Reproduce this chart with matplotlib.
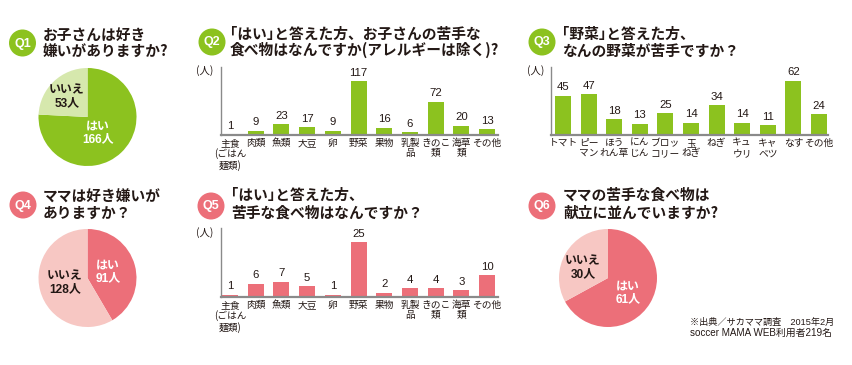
import matplotlib
matplotlib.use("Agg")
import matplotlib.pyplot as plt
from matplotlib.patches import Circle

plt.rcParams['font.family'] = ['Noto Sans CJK JP', 'DejaVu Sans']
LAT = ['Liberation Sans', 'Noto Sans CJK JP']

W, H = 852, 365

# ---------------- data ----------------
q1_labels = ["はい", "いいえ"]
q1_values = [166, 53]

q2_cats = ["主食\n(ごはん\n麺類)", "肉類", "魚類", "大豆", "卵", "野菜", "果物",
           "乳製\n品", "きのこ\n類", "海草\n類", "その他"]
q2_values = [1, 9, 23, 17, 9, 117, 16, 6, 72, 20, 13]

q3_cats = ["トマト", "ピー\nマン", "ほう\nれん草", "にん\nじん", "ブロッ\nコリー", "玉\nねぎ",
           "ねぎ", "キュ\nウリ", "キャ\nベツ", "なす", "その他"]
q3_values = [45, 47, 18, 13, 25, 14, 34, 14, 11, 62, 24]

q4_labels = ["はい", "いいえ"]
q4_values = [91, 128]

q5_cats = q2_cats
q5_values = [1, 6, 7, 5, 1, 25, 2, 4, 4, 3, 10]

q6_labels = ["はい", "いいえ"]
q6_values = [61, 30]

titles = {
    "Q1": "お子さんは好き\n嫌いがありますか?",
    "Q2": "｢はい｣と答えた方、お子さんの苦手な\n食べ物はなんですか(アレルギーは除く)?",
    "Q3": "｢野菜｣と答えた方、\nなんの野菜が苦手ですか？",
    "Q4": "ママは好き嫌いが\nありますか？",
    "Q5": "｢はい｣と答えた方、\n苦手な食べ物はなんですか？",
    "Q6": "ママの苦手な食べ物は\n献立に並んでいますか?",
}
footnote = ["※出典／サカママ調査　2015年2月", "soccer MAMA WEB利用者219名"]

GREEN = "#8cc21f"
LGREEN = "#d6e8ad"
PINK = "#ec6f79"
LPINK = "#f7c7c3"
TXT = "#231815"
AXC = "#8a8a8a"

fig = plt.figure(figsize=(W / 100, H / 100), dpi=100)
bg = fig.add_axes([0, 0, 1, 1])
bg.set_xlim(0, W)
bg.set_ylim(H, 0)
bg.axis("off")
bg.set_zorder(10)


def badge(q, x, y, color):
    bg.add_patch(Circle((x, y), 13.5, color=color, lw=0))
    bg.text(x, y + 0.5, q, color="white", fontsize=9, fontweight="bold",
            ha="center", va="center", family=LAT)


def title(q, x, y1, y2):
    l1, l2 = titles[q].split("\n")
    bg.text(x, y1, l1, fontsize=10.6, fontweight="bold", color=TXT, ha="left", va="center")
    bg.text(x, y2, l2, fontsize=10.6, fontweight="bold", color=TXT, ha="left", va="center")


def px_axes(x0, y0, x1, y1):
    return fig.add_axes([x0 / W, 1 - y1 / H, (x1 - x0) / W, (y1 - y0) / H])


def pie(cx, cy, r, values, colors, label_info):
    ax = px_axes(cx - r, cy - r, cx + r, cy + r)
    ax.pie(values, colors=colors, startangle=90, counterclock=False,
           wedgeprops=dict(linewidth=0), radius=1)
    ax.set_xlim(-1, 1)
    ax.set_ylim(-1, 1)
    ax.set_aspect("equal")
    ax.axis("off")
    for (lab, val, lx, ly, col) in label_info:
        bg.text(lx, ly, f"{lab}\n{val}人", fontsize=8.6, fontweight="bold", color=col,
                ha="center", va="center", linespacing=1.05, family=LAT)


def bars(x0, ytop, x1, ybase, cats, values, color, first_c, last_c, ymax):
    ax = px_axes(x0, ytop, x1, ybase)
    n = len(values)
    step = (last_c - first_c) / (n - 1)
    pos = list(range(n))
    ax.bar(pos, values, width=16 / step, color=color, linewidth=0)
    ax.set_xlim(-(first_c - x0) / step, (n - 1) + (x1 - last_c) / step)
    ax.set_ylim(0, ymax)
    for s in ["top", "right"]:
        ax.spines[s].set_visible(False)
    ax.spines["left"].set_color(AXC)
    ax.spines["left"].set_linewidth(1.0)
    ax.spines["bottom"].set_color(AXC)
    ax.spines["bottom"].set_linewidth(1.6)
    ax.set_yticks([])
    ax.set_xticks(pos)
    ax.set_xticklabels(cats, fontsize=7, color=TXT, linespacing=1.05)
    ax.tick_params(axis="x", length=0, pad=2)
    ax.patch.set_alpha(0)
    for i, v in enumerate(values):
        ax.annotate(str(v), (i, v), xytext=(0, 2.5), textcoords="offset points",
                    ha="center", va="bottom", fontsize=8.2, color=TXT, family=LAT)
    return ax


# Q1
badge("Q1", 22.5, 43, GREEN)
title("Q1", 43, 35, 52)
pie(87.5, 117, 49, q1_values, [GREEN, LGREEN],
    [(q1_labels[0], q1_values[0], 98, 133, "white"),
     (q1_labels[1], q1_values[1], 67, 97, TXT)])

# Q2
badge("Q2", 212, 42, GREEN)
title("Q2", 230, 34, 50)
bars(221, 67, 498, 135, q2_cats, q2_values, GREEN, 230, 487, 148)
bg.text(205, 71, "(人)", fontsize=7.5, color=TXT, ha="center", va="center")

# Q3
badge("Q3", 542, 42, GREEN)
title("Q3", 562, 34, 51)
bars(551, 67, 828, 135, q3_cats, q3_values, GREEN, 563, 819, 78)
bg.text(536, 71, "(人)", fontsize=7.5, color=TXT, ha="center", va="center")

# Q4
badge("Q4", 23, 205, PINK)
title("Q4", 43, 197, 213)
pie(87.5, 278, 49, q4_values, [PINK, LPINK],
    [(q4_labels[0], q4_values[0], 108, 272, "white"),
     (q4_labels[1], q4_values[1], 65, 283, TXT)])

# Q5
badge("Q5", 211, 206, PINK)
title("Q5", 231, 195, 213)
bars(221, 228, 498, 297, q5_cats, q5_values, PINK, 230, 487, 31.4)
bg.text(205, 233, "(人)", fontsize=7.5, color=TXT, ha="center", va="center")

# Q6
badge("Q6", 542, 206, PINK)
title("Q6", 563, 195, 213)
pie(608, 278, 49, q6_values, [PINK, LPINK],
    [(q6_labels[0], q6_values[0], 628, 293, "white"),
     (q6_labels[1], q6_values[1], 583, 268, TXT)])

bg.text(690, 322, footnote[0], fontsize=6.6, color=TXT, ha="left", va="center", family=LAT)
bg.text(690, 333, footnote[1], fontsize=7.1, color=TXT, ha="left", va="center", family=LAT)

fig.savefig("out.png", dpi=100)
